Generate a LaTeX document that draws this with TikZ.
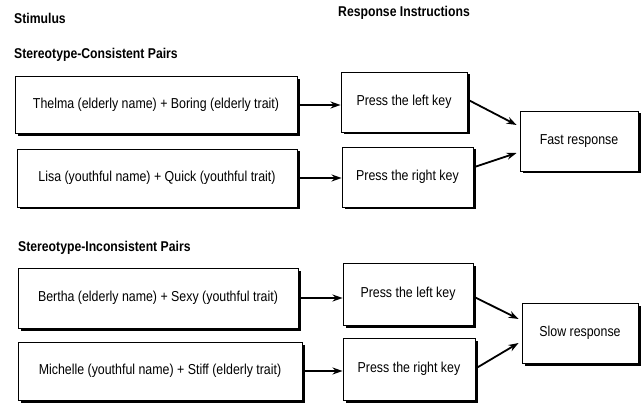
\documentclass[tikz,border=0pt]{standalone}
\usepackage{fontspec}
\setmainfont{Liberation Sans}[FakeStretch=0.86]
\usetikzlibrary{arrows.meta,shadows,calc}
\begin{document}
\begin{tikzpicture}[x=1pt,y=-1pt,
  box/.style={draw=black,line width=0.9pt,fill=white,rectangle,inner sep=0pt,
    drop shadow={shadow xshift=2.5pt,shadow yshift=-2.5pt,opacity=1,fill=black},
    font=\fontsize{14.4}{16}\selectfont},
  head/.style={anchor=west,inner sep=0pt,font=\bfseries\fontsize{14.2}{16}\selectfont},
  arr/.style={line width=1.8pt,-{Stealth[length=10pt,width=7pt]}}]
\useasboundingbox (0,0) rectangle (642,403);
\fill[white] (0,0) rectangle (642,403);
% headings
\node[head] (hs) at (14,18) {Stimulus};
\node[head] (hr) at (338,13) {Response Instructions};
\node[head] (hc) at (14,55) {Stereotype-Consistent Pairs};
\node[head] (hi) at (18,248) {Stereotype-Inconsistent Pairs};
% stimulus boxes
\node[box,minimum width=282pt,minimum height=57pt] (s1) at (156,105) {Thelma (elderly name) + Boring (elderly trait)};
\node[box,minimum width=280pt,minimum height=58pt] (s2) at (157,178) {Lisa (youthful name) + Quick (youthful trait)};
\node[box,minimum width=280pt,minimum height=60pt] (s3) at (158,298) {Bertha (elderly name) + Sexy (youthful trait)};
\node[box,minimum width=284pt,minimum height=58pt] (s4) at (160,371) {Michelle (youthful name) + Stiff (elderly trait)};
% response boxes
\node[box,minimum width=126pt,minimum height=60pt] (p1) at (404,102) {Press the left key};
\node[box,minimum width=131pt,minimum height=60pt] (p2) at (407.5,177) {Press the right key};
\node[box,minimum width=130pt,minimum height=62pt] (p3) at (408,294) {Press the left key};
\node[box,minimum width=132pt,minimum height=62pt] (p4) at (409,369) {Press the right key};
% outcome boxes
\node[box,minimum width=118pt,minimum height=60pt] (f) at (579,141) {Fast response};
\node[box,minimum width=116pt,minimum height=60pt] (sl) at (580,333) {Slow response};
% arrows
\draw[arr] (s1.east) -- (p1.west |- s1.east);
\draw[arr] (s2.east) -- (p2.west |- s2.east);
\draw[arr] (s3.east) -- (p3.west |- s3.east);
\draw[arr] (s4.east) -- (p4.west |- s4.east);
\draw[arr] ($(p1.east)+(1,-2)$) -- ($(f.west)+(-3,-16)$);
\draw[arr] ($(p2.east)+(1,-10)$) -- ($(f.west)+(-3,12)$);
\draw[arr] ($(p3.east)+(1,3)$) -- ($(sl.west)+(-3,-14)$);
\draw[arr] ($(p4.east)+(1,-1)$) -- ($(sl.west)+(-3,10)$);
\end{tikzpicture}
\end{document}
